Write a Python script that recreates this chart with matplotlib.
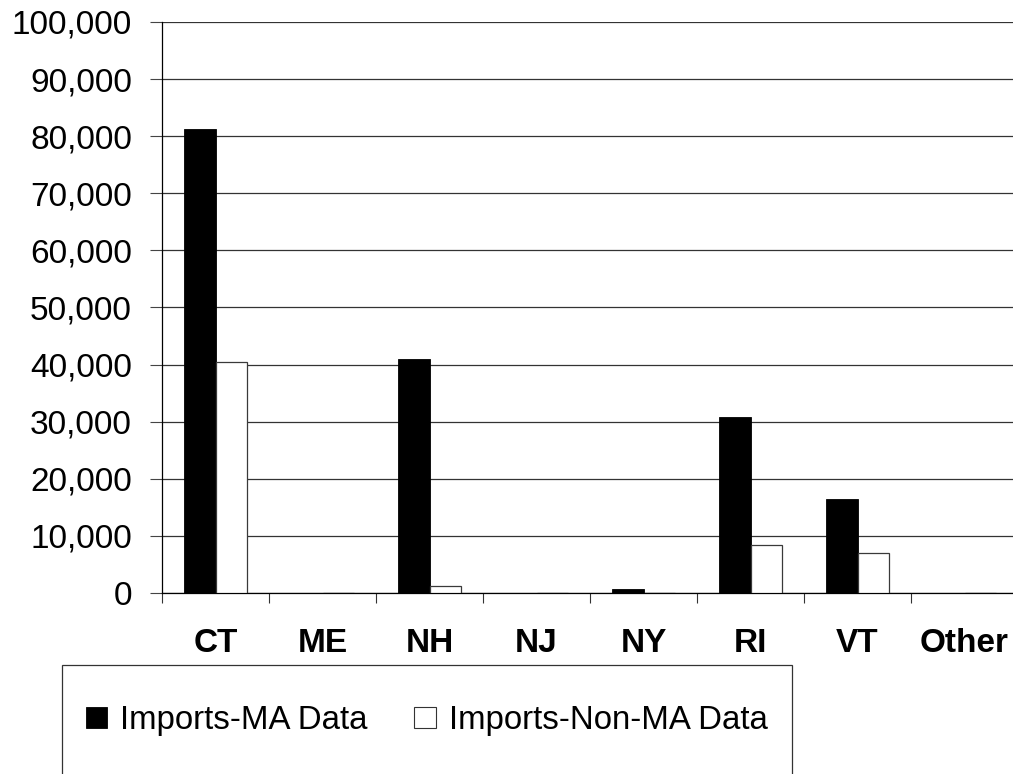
import numpy as np
import matplotlib.pyplot as plt
from matplotlib.patches import Rectangle, Patch

plt.rcParams['font.family'] = ['Liberation Sans', 'DejaVu Sans']

# Dados
states = ['CT', 'ME', 'NH', 'NJ', 'NY', 'RI', 'VT', 'Other']
imports_ma = [81200, 0, 40900, 0, 650, 30750, 16450, 0]
imports_non_ma = [40450, 0, 1180, 0, 0, 8470, 7050, 0]
yticks = np.arange(0, 100001, 10000)

fig = plt.figure(figsize=(10.13, 7.74), dpi=100)
ax = fig.add_axes([162 / 1013, 181 / 774, 856 / 1013, 571 / 774])

x = np.arange(len(states))
w = 0.295
ax.bar(x - w / 2, imports_ma, w, color='black', edgecolor='black', linewidth=0.6, zorder=3)
ax.bar(x + w / 2, imports_non_ma, w, color='white', edgecolor='#3a3a3a', linewidth=0.9, zorder=3)

ax.set_xlim(-0.5, len(states) - 0.5)
ax.set_ylim(0, 100000)
ax.set_yticks(yticks)
ax.set_yticklabels([f'{v:,}' for v in yticks], fontsize=24)
ax.tick_params(axis='y', length=8.6, width=0.8, pad=13, color='#444444')

ax.set_xticks(x)
ax.set_xticklabels(states, fontsize=24, fontweight='bold')
ax.set_xticks(np.arange(-0.5, len(states)), minor=True)
ax.tick_params(axis='x', which='major', length=0, pad=25.5)
ax.tick_params(axis='x', which='minor', length=7.2, width=0.8, color='#333333')

ax.grid(axis='y', color='#333333', linewidth=0.9, zorder=0)
ax.set_axisbelow(True)
for s in ['top', 'right']:
    ax.spines[s].set_visible(False)
ax.spines['left'].set_linewidth(0.9)
ax.spines['bottom'].set_linewidth(0.9)

# Caixa da legenda
fig.patches.append(Rectangle((62 / 1013, -0.01), (792 - 62) / 1013, (774 - 665) / 774 + 0.01,
                             transform=fig.transFigure, fill=False, edgecolor='#333333',
                             linewidth=0.9))
handles = [Patch(facecolor='black', edgecolor='black', linewidth=0.6),
           Patch(facecolor='white', edgecolor='#333333', linewidth=0.8)]
fig.legend(handles, ['Imports-MA Data', 'Imports-Non-MA Data'], loc='center left',
           bbox_to_anchor=(86 / 1013, 1 - 721 / 774), ncol=2, frameon=False, fontsize=23.8,
           handlelength=0.64, handleheight=0.6, handletextpad=0.39, columnspacing=1.42,
           borderpad=0, borderaxespad=0)

fig.savefig('out.png', dpi=100)
